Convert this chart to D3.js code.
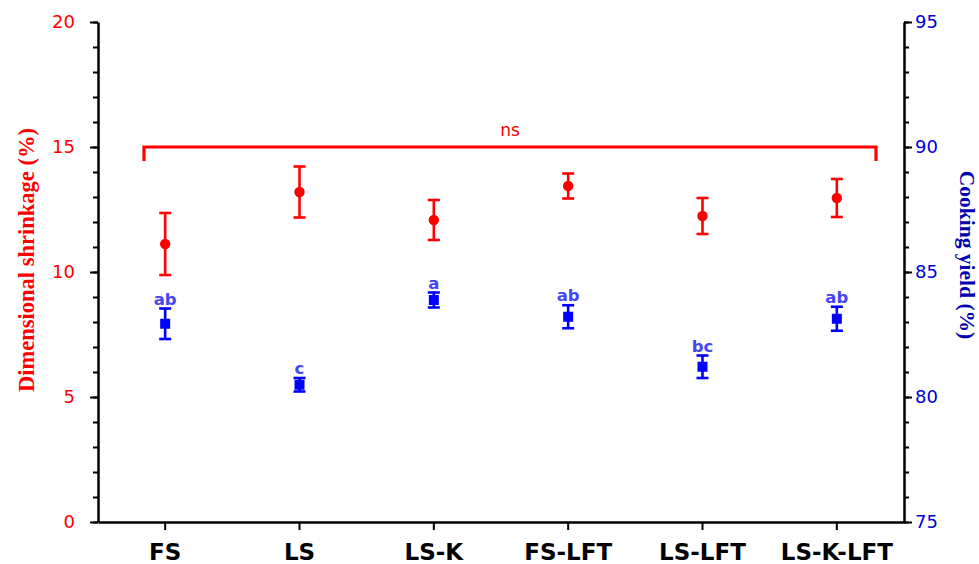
<!DOCTYPE html>
<html>
<head>
<meta charset="utf-8">
<script src="https://cdn.jsdelivr.net/npm/d3@7"></script>
<style>
  html, body { margin: 0; padding: 0; background: #fff; }
  svg { display: block; }
</style>
</head>
<body>
<svg id="chart" width="979" height="564"></svg>
<script>
// Treatments along the x axis
const categories = ["FS", "LS", "LS-K", "FS-LFT", "LS-LFT", "LS-K-LFT"];

// Dimensional shrinkage (%), mean and error (left axis)
const shrinkMean = [11.12, 13.2, 12.08, 13.44, 12.24, 12.96];
const shrinkErr  = [1.24, 1.02, 0.8, 0.5, 0.72, 0.76];

// Cooking yield (%), mean and error (right axis)
const yieldMean = [82.93, 80.49, 83.88, 83.21, 81.21, 83.13];
const yieldErr  = [0.61, 0.27, 0.3, 0.46, 0.45, 0.48];
const yieldLetters = ["ab", "c", "a", "ab", "bc", "ab"];

// Axis ticks
const leftTicks = [0, 5, 10, 15, 20];
const rightTicks = [75, 80, 85, 90, 95];
const nsLevel = 15;
const nsLabel = "ns";

const W = 979, H = 564;
const margin = { top: 22, right: 75, bottom: 42, left: 98 };
const svg = d3.select("#chart");

const x = d3.scaleBand().domain(categories)
  .range([margin.left, W - margin.right]).padding(0);
const yL = d3.scaleLinear().domain([0, 20]).range([H - margin.bottom, margin.top]);
const yR = d3.scaleLinear().domain([75, 95]).range([H - margin.bottom, margin.top]);
const cx = c => x(c) + x.bandwidth() / 2;

const tickFont = "'DejaVu Sans', Verdana, sans-serif";
const red = "#ff0000", blue = "#0000ff";

// ---- Axes ----
function styleAxis(g, color, size) {
  g.select(".domain").attr("stroke", "#000").attr("stroke-width", 2.5);
  g.selectAll(".tick line").attr("stroke", "#000").attr("stroke-width", 2);
  g.selectAll(".tick text").attr("fill", color)
    .style("font-family", tickFont).style("font-size", size);
}

// left minor ticks
svg.append("g").attr("transform", `translate(${margin.left},0)`)
  .call(d3.axisLeft(yL).tickValues(d3.range(0, 21, 1)).tickSize(5).tickFormat(""))
  .call(g => { g.select(".domain").remove(); g.selectAll(".tick line").attr("stroke", "#000").attr("stroke-width", 2); });
// left major
svg.append("g").attr("transform", `translate(${margin.left},0)`)
  .call(d3.axisLeft(yL).tickValues(leftTicks).tickSize(8).tickSizeOuter(0).tickPadding(15))
  .call(g => styleAxis(g, red, "18px"));

// right minor ticks
svg.append("g").attr("transform", `translate(${W - margin.right},0)`)
  .call(d3.axisRight(yR).tickValues(d3.range(75, 96, 1)).tickSize(5).tickFormat(""))
  .call(g => { g.select(".domain").remove(); g.selectAll(".tick line").attr("stroke", "#000").attr("stroke-width", 2); });
// right major
svg.append("g").attr("transform", `translate(${W - margin.right},0)`)
  .call(d3.axisRight(yR).tickValues(rightTicks).tickSize(8).tickSizeOuter(0).tickPadding(3))
  .call(g => styleAxis(g, "#0000d8", "18px"));

// bottom
svg.append("g").attr("transform", `translate(0,${H - margin.bottom})`)
  .call(d3.axisBottom(x).tickSize(8).tickSizeOuter(0).tickPadding(14))
  .call(g => {
    styleAxis(g, "#000", "23px");
    g.selectAll(".tick text").style("font-weight", "bold").attr("dy", "0.71em");
  });

// ---- Axis titles ----
svg.append("text")
  .attr("transform", `translate(26,${(margin.top + H - margin.bottom) / 2 - 12}) rotate(-90)`)
  .attr("text-anchor", "middle").attr("dominant-baseline", "central")
  .attr("fill", red)
  .style("font-family", "'Liberation Serif', 'Times New Roman', serif")
  .style("font-weight", "bold").style("font-size", "22.5px")
  .text("Dimensional shrinkage (%)");

svg.append("text")
  .attr("transform", `translate(967,${(margin.top + H - margin.bottom) / 2 - 17}) rotate(90)`)
  .attr("text-anchor", "middle").attr("dominant-baseline", "central")
  .attr("fill", "#0000b0")
  .style("font-family", "'Liberation Serif', 'Times New Roman', serif")
  .style("font-weight", "bold").style("font-size", "21.5px")
  .text("Cooking yield (%)");

// ---- ns bracket over all treatments ----
const bx0 = x.range()[0] + 46, bx1 = x.range()[1] - 28, by = yL(nsLevel);
svg.append("path")
  .attr("d", `M${bx0},${by + 14}V${by}H${bx1}V${by + 14}`)
  .attr("fill", "none").attr("stroke", red).attr("stroke-width", 3.2);
svg.append("text")
  .attr("x", (bx0 + bx1) / 2).attr("y", by - 11)
  .attr("text-anchor", "middle").attr("fill", red)
  .style("font-family", tickFont).style("font-size", "17px")
  .text(nsLabel);

// ---- Error bars helper ----
function errorBars(means, errs, scale, color) {
  const g = svg.append("g").attr("stroke", color).attr("stroke-width", 2.6).attr("fill", "none");
  categories.forEach((c, i) => {
    const xc = cx(c), top = scale(means[i] + errs[i]), bot = scale(means[i] - errs[i]);
    g.append("line").attr("x1", xc).attr("x2", xc).attr("y1", top).attr("y2", bot);
    g.append("line").attr("x1", xc - 6).attr("x2", xc + 6).attr("y1", top).attr("y2", top);
    g.append("line").attr("x1", xc - 6).attr("x2", xc + 6).attr("y1", bot).attr("y2", bot);
  });
}

// shrinkage: red circles
errorBars(shrinkMean, shrinkErr, yL, red);
svg.append("g").selectAll("circle").data(categories).join("circle")
  .attr("cx", c => cx(c)).attr("cy", (c, i) => yL(shrinkMean[i]))
  .attr("r", 5.2).attr("fill", red);

// cooking yield: blue squares
errorBars(yieldMean, yieldErr, yR, blue);
svg.append("g").selectAll("rect").data(categories).join("rect")
  .attr("x", c => cx(c) - 5).attr("y", (c, i) => yR(yieldMean[i]) - 5)
  .attr("width", 10).attr("height", 10).attr("fill", blue);

// significance letters above yield points
svg.append("g").selectAll("text").data(categories).join("text")
  .attr("x", c => cx(c)).attr("y", (c, i) => yR(yieldMean[i] + yieldErr[i]) - 4)
  .attr("text-anchor", "middle").attr("fill", "#4646f5")
  .style("font-family", tickFont).style("font-weight", "bold").style("font-size", "16.5px")
  .text((c, i) => yieldLetters[i]);
</script>
</body>
</html>
